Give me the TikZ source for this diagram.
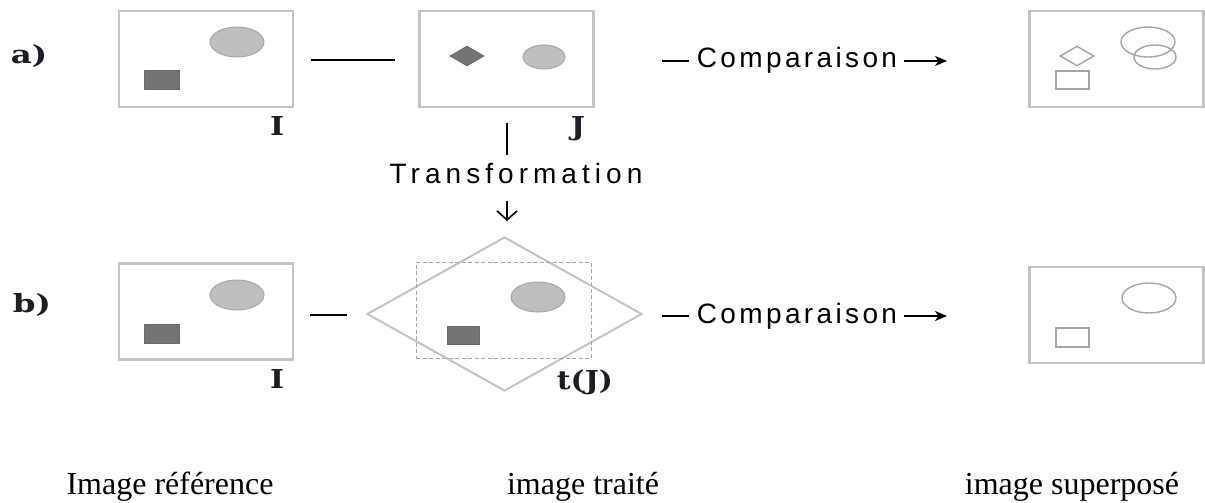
\documentclass[tikz,border=0pt]{standalone}
\usepackage{fontspec}
\setmainfont{Liberation Serif}
\newfontfamily\wideSans[LetterSpace=18]{Liberation Sans}
\newfontfamily\openSans[LetterSpace=12]{Liberation Sans}
\newfontfamily\labfnt{DejaVu Serif}
\usetikzlibrary{shapes.geometric,arrows.meta}
\definecolor{framegray}{HTML}{C4C4C4}
\definecolor{darkfill}{HTML}{747474}
\definecolor{darkedge}{HTML}{6A6A6A}
\definecolor{lightfill}{HTML}{BEBEBE}
\definecolor{lightedge}{HTML}{A8A8A8}
\definecolor{outlinegray}{HTML}{A6A6A6}
\definecolor{labink}{HTML}{1C1C24}
\tikzset{
  panel/.style={draw=framegray, line width=2.2pt, rectangle, minimum width=174pt, minimum height=96pt, inner sep=0pt},
  darksq/.style={fill=darkfill, draw=darkedge, line width=0.8pt, rectangle, minimum width=35pt, minimum height=19pt, inner sep=0pt},
  darkdia/.style={fill=darkfill, draw=darkedge, line width=0.8pt, diamond, minimum width=34pt, minimum height=20pt, inner sep=0pt},
  greyell/.style={fill=lightfill, draw=lightedge, line width=1pt, ellipse, inner sep=0pt},
  bigell/.style={greyell, minimum width=54pt, minimum height=30pt},
  smallell/.style={greyell, minimum width=42pt, minimum height=24pt},
  ghost/.style={draw=outlinegray, line width=1.4pt, fill=none, inner sep=0pt},
  conn/.style={draw=black, line width=1.6pt},
  rowlabel/.style={font=\labfnt\bfseries\fontsize{25}{25}\selectfont, text=labink, xscale=1.3, inner sep=0pt},
  imglabel/.style={font=\labfnt\bfseries\fontsize{26}{26}\selectfont, text=labink, xscale=1.15, inner sep=0pt, anchor=base},
  transtext/.style={font=\wideSans\fontsize{28}{28}\selectfont, inner sep=0pt, anchor=base},
  cmptext/.style={font=\openSans\fontsize{28}{28}\selectfont, inner sep=0pt, anchor=base},
  caption/.style={font=\fontsize{32}{32}\selectfont, inner sep=0pt, anchor=base},
  cmparrow/.style={conn, -{Stealth[length=12pt,width=10pt,inset=3.5pt]}},
}
\begin{document}
\begin{tikzpicture}[x=1pt,y=-1pt]
\useasboundingbox (0,0) rectangle (1205,503);

% ---- row a ----
\node[rowlabel] (la) at (29,56) {a)};
\node[panel] (aI) at (206,59) {};
\node[bigell] (aIe) at (237,42) {};
\node[darksq] (aIs) at (161.5,79.5) {};
\node[imglabel] (aIl) at (277,135) {I};

\node[panel] (aJ) at (506.5,59) {};
\node[darkdia] (aJd) at (467,56) {};
\node[smallell] (aJe) at (544,57) {};
\node[imglabel] (aJl) at (578,135) {J};

\draw[conn] ([xshift=17pt]aI.east |- 0,60) coordinate (a1) -- ([xshift=-23pt]aJ.west |- 0,60) coordinate (a2);

\node[cmptext] (cmpA) at (797,68) {Comparaison};
\coordinate (cA0) at (662,61);
\coordinate (cA1) at (947,61);
\draw[conn] (cA0) -- ([xshift=-8pt]cmpA.west |- cA0);
\draw[cmparrow] ([xshift=7pt]cmpA.east |- cA1) -- (cA1);

\node[panel] (aS) at (1116.5,59) {};
\node[ghost, diamond, minimum width=34pt, minimum height=20pt] (aSd) at (1077,56) {};
\node[ghost, rectangle, minimum width=33pt, minimum height=18pt] (aSs) at (1072.5,80) {};
\node[ghost, ellipse, minimum width=54pt, minimum height=30pt] (aSe1) at (1148,42) {};
\node[ghost, ellipse, minimum width=42pt, minimum height=24pt] (aSe2) at (1155,57) {};

% ---- transformation ----
\node[transtext] (tr) at (516,183) {Transformation};
\draw[conn] (507,123) coordinate (t0) -- (507,155) coordinate (t1);
\draw[conn, -{Straight Barb[length=9pt,width=20pt,line width=1.6pt]}] (507,201) coordinate (t2) -- (507,221) coordinate (t3);

% ---- row b ----
\node[rowlabel] (lb) at (32,305) {b)};
\node[panel] (bI) at (206,311.5) {};
\node[bigell] (bIe) at (237,295) {};
\node[darksq] (bIs) at (161.5,333.5) {};
\node[imglabel] (bIl) at (277,388) {I};

\node[draw=framegray, line width=2pt, diamond, minimum width=275pt, minimum height=154pt, inner sep=0pt] (bJ) at (504.5,314) {};
\node[draw=outlinegray, line width=1pt, dashed, dash pattern=on 4pt off 2.5pt, rectangle, minimum width=175pt, minimum height=96pt, inner sep=0pt] (bJr) at (503.5,310) {};
\node[bigell] (bJe) at (538,297) {};
\node[darksq, minimum width=32pt, minimum height=18pt] (bJs) at (463,335) {};
\node[imglabel] (bJl) at (585,389) {t(J)};

\draw[conn] (310,315) coordinate (b1) -- ([xshift=-19pt]bJ.west |- 0,315) coordinate (b2);

\node[cmptext] (cmpB) at (797,323) {Comparaison};
\coordinate (cB0) at (662,316);
\coordinate (cB1) at (947,316);
\draw[conn] (cB0) -- ([xshift=-8pt]cmpB.west |- cB0);
\draw[cmparrow] ([xshift=7pt]cmpB.east |- cB1) -- (cB1);

\node[panel] (bS) at (1116.5,315) {};
\node[ghost, ellipse, minimum width=54pt, minimum height=30pt] (bSe) at (1149,298) {};
\node[ghost, rectangle, minimum width=33pt, minimum height=19pt] (bSs) at (1072.5,337.5) {};

% ---- captions ----
\node[caption] (c1) at (170,494) {Image référence};
\node[caption] (c2) at (583,494) {image traité};
\node[caption] (c3) at (1072,494) {image superposé};
\end{tikzpicture}
\end{document}
